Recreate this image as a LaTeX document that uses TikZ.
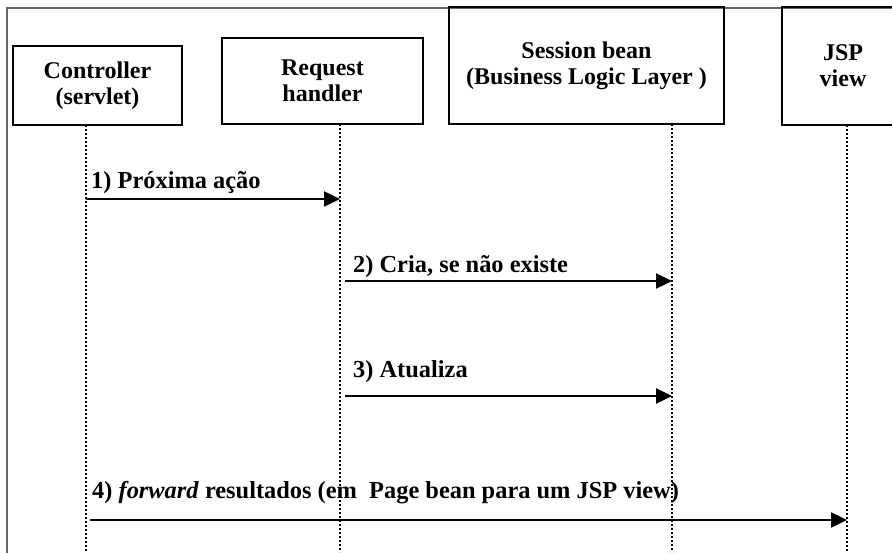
\documentclass[tikz,border=0pt]{standalone}
\usepackage{fontspec}
\setmainfont{Liberation Serif}
\usetikzlibrary{arrows.meta}

\tikzset{
	box/.style={draw, line width=1.3pt, inner sep=0pt, align=center,
		font=\fontsize{24}{26}\selectfont\bfseries},
	life/.style={line width=2.6pt, dash pattern=on 2.4pt off 1.6pt},
	msg/.style={line width=2.4pt, -{Triangle[length=16pt,width=15pt]}},
	lbl/.style={anchor=base west, inner sep=0pt,
		font=\fontsize{24.4}{26}\selectfont\bfseries}
}

\begin{document}
\begin{tikzpicture}[x=1pt,y=-1pt]
		\useasboundingbox (0,0) rectangle (892,552);
		\clip (0,0) rectangle (892,552);
		\draw[black!60, line width=2pt] (7,560) -- (7,8) -- (900,8);

		\node[box, minimum width=169pt, minimum height=79pt] (ctrl) at (97.5,85.5) {Controller\\(servlet)};
		\node[box, minimum width=201pt, minimum height=86pt] (handler) at (322.5,81) {Request\\handler};
		\node[box, minimum width=275pt, minimum height=117pt] (session) at (586.5,65.5) {Session bean\\(Business Logic Layer )};
		\node[box, minimum width=122pt, minimum height=118pt] (jsp) at (843,66) {JSP\\view};

		% lifelines
		\coordinate (C) at (86,125);
		\coordinate (R) at (340,124);
		\coordinate (S) at (672,124);
		\coordinate (J) at (847,125);
		\foreach \c in {C,R,S,J}
			\draw[life] (\c) -- (\c |- 0,552);

		% messages
		\coordinate (A1) at (86,199);
		\coordinate (B1) at (R |- A1);
		\draw[msg] (A1) -- (B1);
		\node[lbl] (m1) at (91,188) {1) Próxima ação};

		\coordinate (A2) at (345,281);
		\coordinate (B2) at (S |- A2);
		\draw[msg] (A2) -- (B2);
		\node[lbl] (m2) at (353,272) {2) Cria, se não existe};

		\coordinate (A3) at (345,396);
		\coordinate (B3) at (S |- A3);
		\draw[msg] (A3) -- (B3);
		\node[lbl] (m3) at (353,377) {3) Atualiza};

		\coordinate (A4) at (90,520);
		\coordinate (B4) at (J |- A4);
		\draw[msg] (A4) -- (B4);
		\node[lbl] (m4) at (92,498) {4) \textit{forward} resultados (em \ Page bean para um JSP view)};
\end{tikzpicture}
\end{document}
